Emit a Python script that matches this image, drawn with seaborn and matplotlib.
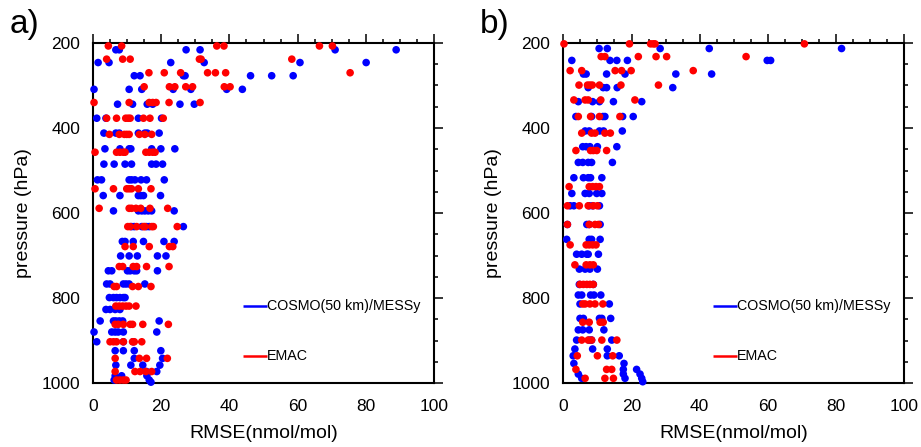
import numpy as np
import pandas as pd
import seaborn as sns
import matplotlib
matplotlib.use("Agg")
import matplotlib.pyplot as plt
from matplotlib.ticker import MultipleLocator

# ---------------- data ----------------
series_names = ["COSMO(50 km)/MESSy", "EMAC"]
series_colors = ["#0000ff", "#ff0000"]
panel_labels = ["a)", "b)"]
x_label = "RMSE(nmol/mol)"
y_label = "pressure (hPa)"
x_ticks = [0, 20, 40, 60, 80, 100]
y_ticks = [200, 400, 600, 800, 1000]

# panel a, COSMO(50 km)/MESSy
a_cosmo_p = [216, 246, 277, 309, 344, 377, 412, 449, 485, 522, 559, 595, 632, 667,
             701, 736, 767, 799, 827, 854, 880, 903, 924, 942, 958, 973, 983, 993, 998]
a_cosmo_rmse = [
    [6.7, 7.7, 27.3, 31.4, 71.0, 88.9],
    [1.5, 4.7, 22.8, 32.6, 60.7, 80.1],
    [12.1, 13.8, 26.5, 27.0, 46.2, 52.4, 58.7],
    [0.3, 10.6, 14.3, 23.5, 28.7, 39.2, 43.8],
    [7.2, 11.6, 15.9, 17.5, 25.5, 29.7],
    [1.1, 3.8, 13.3, 20.1],
    [3.2, 6.7, 7.7, 13.3, 15.2, 15.9, 19.4],
    [3.5, 7.9, 10.6, 11.1, 17.2, 19.9, 24.0],
    [3.2, 6.2, 9.4, 11.3, 17.2, 18.5, 20.4],
    [1.3, 2.5, 10.6, 11.3, 12.3, 14.1, 15.7, 20.9],
    [3.0, 7.9, 13.3, 14.0, 14.8, 19.8],
    [6.0, 13.3, 14.3, 15.2, 16.2, 17.2, 23.8],
    [11.3, 12.1, 14.3, 15.7, 16.5, 26.5],
    [8.6, 9.4, 11.8, 14.8, 20.8, 23.8],
    [8.1, 10.6, 13.0, 18.9, 21.4],
    [4.5, 5.5, 10.1, 10.9, 12.1, 12.8, 18.9],
    [4.0, 5.0, 8.9, 9.7, 10.6, 15.2],
    [4.8, 6.0, 6.9, 7.9, 8.9, 9.4],
    [3.8, 5.0, 6.5, 7.9],
    [2.1, 6.0, 6.7, 7.7, 8.7, 19.4],
    [0.3, 5.5, 6.5, 7.4, 8.9, 18.7],
    [1.1, 8.9, 11.8],
    [6.5, 8.9, 12.1, 19.9],
    [12.1, 20.4],
    [6.7, 11.1, 14.6, 19.6],
    [15.7, 18.7],
    [6.5, 8.4, 15.8],
    [6.2, 16.5],
    [17.0],
]

# panel a, EMAC
a_emac_p = [207, 238, 270, 303, 340, 377, 415, 457, 543, 589, 632, 679, 726, 773,
            819, 862, 903, 942, 973, 993]
a_emac_rmse = [
    [4.5, 8.4, 36.3, 38.4, 66.4, 70.2],
    [4.0, 8.7, 10.9, 31.2, 31.7, 58.3],
    [16.4, 20.9, 25.7, 33.6, 35.9, 38.9, 75.4],
    [15.0, 22.4, 24.0, 27.2, 29.2, 38.5, 40.2],
    [0.3, 10.6, 16.5, 17.5, 18.5, 22.3, 31.4],
    [4.0, 6.9, 9.6, 10.3, 10.9, 14.8, 16.7, 20.6],
    [4.8, 7.7, 9.2, 9.9, 10.6, 13.6, 15.2, 17.2],
    [0.6, 6.9, 7.9, 8.9, 9.4, 15.5, 16.5, 17.5, 18.2],
    [0.6, 6.0, 9.9, 10.6, 11.3, 13.3, 17.0],
    [1.8, 10.6, 11.3, 12.6, 14.0, 16.7, 21.9],
    [10.2, 10.9, 12.8, 14.8, 15.2, 17.2, 17.7, 24.7],
    [9.4, 11.8, 16.5, 22.4, 23.4],
    [7.7, 8.7, 11.8, 12.8, 15.7, 22.3],
    [6.2, 6.9, 11.6, 13.3, 17.0],
    [6.7, 7.7, 8.7, 9.7, 10.6, 12.6],
    [6.5, 7.4, 8.9, 10.9, 11.6, 14.6, 22.1],
    [5.0, 6.0, 6.9, 8.9, 11.6, 12.1, 14.3],
    [6.5, 13.6, 15.7, 21.8],
    [6.5, 12.3, 13.8, 15.5, 17.2],
    [6.9, 7.9, 8.9, 9.7],
]

# panel b, COSMO(50 km)/MESSy
b_cosmo_p = [213, 241, 273, 305, 338, 373, 407, 444, 481, 517, 554, 583, 627, 662,
             697, 732, 768, 793, 814, 848, 875, 899, 920, 936, 954, 968, 979, 989, 997]
b_cosmo_rmse = [
    [10.5, 12.9, 28.4, 42.8, 81.6],
    [2.5, 13.7, 15.7, 18.8, 59.8, 60.8],
    [5.9, 6.7, 12.7, 18.1, 33.0, 43.5],
    [7.3, 11.7, 12.7, 15.8, 32.1],
    [4.4, 8.6, 10.6, 14.7, 23.0],
    [3.7, 8.3, 11.6, 12.2, 17.4, 20.5],
    [6.4, 7.6, 10.6, 11.8, 17.3],
    [5.7, 6.7, 7.8, 10.0, 15.7],
    [4.4, 5.7, 7.3, 8.3, 14.4],
    [3.1, 5.9, 7.3, 8.0, 11.3],
    [2.5, 6.4, 7.6, 9.8, 11.3],
    [2.0, 3.1, 7.6, 8.6, 10.6],
    [1.2, 6.9, 7.6, 10.8],
    [1.0, 7.6, 8.3, 10.8],
    [3.9, 5.4, 6.9, 7.3, 10.3],
    [4.7, 6.4, 7.8, 10.0],
    [4.7, 8.8],
    [4.4, 5.4, 8.0, 9.0, 11.0],
    [4.9, 13.5],
    [4.9, 5.9, 10.6, 11.3, 13.9],
    [4.4, 5.7, 7.6, 11.9],
    [3.9, 7.6, 8.3, 14.2],
    [3.4, 8.6, 12.9],
    [2.9, 12.9, 16.4],
    [3.1, 17.8],
    [17.6, 21.5],
    [4.4, 17.6, 22.5],
    [5.4, 18.1, 23.0],
    [23.3],
]

# panel b, EMAC
b_emac_p = [202, 232, 265, 299, 334, 373, 412, 453, 538, 583, 627, 675, 722, 768,
            814, 857, 899, 936, 968, 989]
b_emac_rmse = [
    [0.2, 19.4, 25.6, 26.4, 26.9, 70.7],
    [11.1, 12.2, 22.0, 27.2, 30.3, 53.6],
    [2.0, 5.4, 15.2, 17.1, 19.9, 38.1],
    [4.6, 7.1, 7.8, 8.5, 10.6, 16.9, 27.9],
    [3.1, 6.4, 7.3, 11.0, 21.0],
    [4.4, 8.0, 10.6, 16.6],
    [5.4, 8.3, 9.3, 12.2, 13.8],
    [3.7, 8.0, 8.8, 9.8, 12.7],
    [1.7, 7.6, 8.6, 9.6, 10.6],
    [1.2, 4.7, 7.3, 8.8, 10.0],
    [1.2, 7.6, 9.3, 10.3],
    [2.0, 6.7, 7.6, 8.6, 9.6],
    [3.4, 6.7, 7.8, 8.8],
    [4.9, 5.9, 6.9, 7.8, 8.8],
    [5.7, 6.4, 7.8, 9.3, 11.6],
    [5.7, 7.6, 10.8, 11.7],
    [5.4, 7.3, 8.3, 11.3, 15.7],
    [4.1, 10.0, 14.5],
    [3.7, 12.7, 14.2],
    [6.4, 12.2, 14.7],
]


def build_frame(levels, rmse_rows, name):
    rows = []
    for p, vals in zip(levels, rmse_rows):
        for v in vals:
            rows.append({"pressure": p, "rmse": v, "model": name})
    return pd.DataFrame(rows)


panels = [
    pd.concat([build_frame(a_cosmo_p, a_cosmo_rmse, series_names[0]),
               build_frame(a_emac_p, a_emac_rmse, series_names[1])], ignore_index=True),
    pd.concat([build_frame(b_cosmo_p, b_cosmo_rmse, series_names[0]),
               build_frame(b_emac_p, b_emac_rmse, series_names[1])], ignore_index=True),
]

# ---------------- styling ----------------
sns.set_theme(style="white")
plt.rcParams["font.family"] = ["Liberation Sans", "DejaVu Sans"]
plt.rcParams["text.color"] = "black"
plt.rcParams["axes.labelcolor"] = "black"

W, H = 921, 447
fig = plt.figure(figsize=(W / 100, H / 100), dpi=100)
palette = dict(zip(series_names, series_colors))

ax_lefts = [93, 563.3]
label_x = [10, 480]

for i, df in enumerate(panels):
    ax = fig.add_axes([ax_lefts[i] / W, 64 / H, 341 / W, 340 / H])
    sns.scatterplot(data=df, x="rmse", y="pressure", hue="model", palette=palette,
                    hue_order=series_names, s=30, linewidth=0, legend=False,
                    ax=ax, clip_on=False, zorder=3)
    ax.set_xlim(0, 100)
    ax.set_ylim(1000, 200)
    ax.set_xticks(x_ticks)
    ax.set_yticks(y_ticks)
    ax.xaxis.set_minor_locator(MultipleLocator(5))
    ax.yaxis.set_minor_locator(MultipleLocator(50))
    ax.tick_params(which="both", direction="out", top=True, right=True,
                   labeltop=False, labelright=False, color="black", width=1.1,
                   labelsize=12.5, labelcolor="black")
    ax.tick_params(which="major", length=6.3)
    ax.tick_params(axis="x", which="major", pad=5.5)
    ax.tick_params(axis="y", which="major", pad=3)
    ax.tick_params(which="minor", length=3.2)
    for sp in ax.spines.values():
        sp.set_visible(True)
        sp.set_color("black")
        sp.set_linewidth(1.5)
    ax.set_xlabel(x_label, fontsize=14, labelpad=8)
    ax.set_ylabel(y_label, fontsize=14, labelpad=7)
    ax.grid(False)

    # legend entries drawn as in the original (line + text inside the plot)
    for name, col, yy in zip(series_names, series_colors, [0.226, 0.079]):
        ax.plot([0.44, 0.51], [yy, yy], transform=ax.transAxes, color=col, lw=1.8,
                solid_capstyle="butt")
        ax.text(0.51, yy, name, transform=ax.transAxes, fontsize=10.3,
                va="center", ha="left", color="black")

    fig.text(label_x[i] / W, 1 - 25 / H, panel_labels[i], fontsize=24,
             va="center", ha="left")

fig.savefig("out.png", dpi=100)
